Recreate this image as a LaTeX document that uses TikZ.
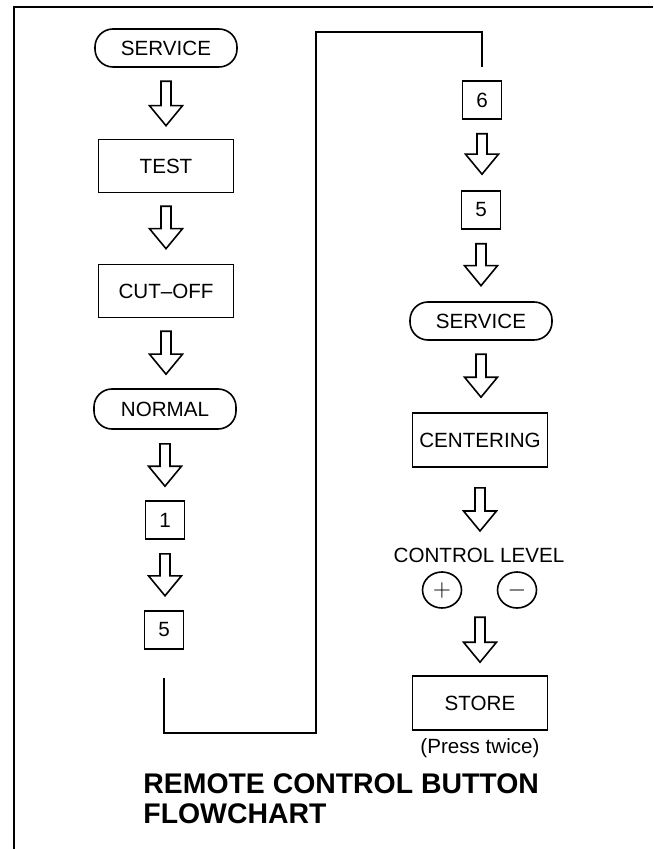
\documentclass[tikz,border=0pt]{standalone}
\usepackage{fontspec}
\setmainfont{Liberation Sans}
\usetikzlibrary{calc,positioning,shapes.geometric}

\newcommand{\flowarrow}[2]{%
  \draw[hollowarr] let \p1=(#1), \p2=(#2) in
    (\x1-2.5pt,\y1) -- (\x1-2.5pt,\y2+10pt) -- (\x1-8.25pt,\y2+10pt)
    -- (\x1,\y2) -- (\x1+8.25pt,\y2+10pt) -- (\x1+2.5pt,\y2+10pt)
    -- (\x1+2.5pt,\y1) -- cycle;}

\begin{document}
\begin{tikzpicture}[x=0.5pt,y=-0.5pt,
  lbl/.style={font=\fontsize{10.3}{12}\selectfont,inner sep=0pt},
  stadium/.style={lbl,draw,line width=0.8pt,rounded corners=9pt,
    minimum width=71pt,minimum height=19pt},
  stepbox/.style={lbl,draw,line width=0.8pt,minimum width=67.5pt,
    minimum height=26.5pt},
  keybox/.style={lbl,draw,line width=0.8pt,minimum width=19.5pt,
    minimum height=19pt},
  keyring/.style={lbl,draw,line width=0.8pt,ellipse,minimum width=19.5pt,
    minimum height=18pt,font=\fontsize{12}{12}\selectfont},
  hollowarr/.style={draw,line width=0.8pt,line join=miter,fill=white},
  link/.style={draw,line width=0.8pt},
  titletext/.style={font=\fontsize{14.2}{15}\selectfont\bfseries,
    align=left,inner sep=0pt}
]
  \useasboundingbox (0,0) rectangle (653,849);
  \draw[line width=0.6pt] (14,849) -- (14,7) -- (653,7);

  \node[stadium] (svcA) at (166,48) {SERVICE};
  \node[stepbox] (test) at (166,166) {TEST};
  \node[stepbox] (cut) at (166,291) {CUT--OFF};
  \node[stadium,minimum height=20pt] (norm) at (165,409) {NORMAL};
  \node[keybox] (one) at (165,520) {1};
  \node[keybox] (fiveA) at (164,630) {5};

  \flowarrow{$(svcA.south)+(0,13.5)$}{$(test.north)-(0,13)$}
  \flowarrow{$(test.south)+(0,13)$}{$(cut.north)-(0,15)$}
  \flowarrow{$(cut.south)+(0,13)$}{$(norm.north)-(0,14)$}
  \flowarrow{$(norm.south)+(0,14)$}{$(one.north)-(0,14)$}
  \flowarrow{$(one.south)+(0,14)$}{$(fiveA.south)-(0,54)$}

  \node[keybox] (sixB) at (482,100) {6};
  \node[keybox] (fiveB) at (481,210) {5};
  \node[stadium] (svcB) at (481,321) {SERVICE};
  \node[stepbox,minimum height=27pt] (cent) at (480,440) {CENTERING};
  \node[lbl] (lvl) at (479,555) {CONTROL LEVEL};
  \node[keyring] (plus) at (442,590) {$+$};
  \node[keyring] (minus) at (517,590) {$-$};
  \node[stepbox,minimum height=27pt] (store) at (480,703) {STORE};
  \node[lbl] (note) at (480,748) {(Press twice)};

  \draw[link] ($(fiveA.south)+(0,28)$) -- ++(0,55) -| (316,32)
    -| ($(sixB.north)-(0,13)$);

  \flowarrow{$(sixB.south)+(0,14)$}{$(fiveB.north)-(0,16)$}
  \flowarrow{$(fiveB.south)+(0,14)$}{$(svcB.north)-(0,15.5)$}
  \flowarrow{$(svcB.south)+(0,13.5)$}{$(cent.north)-(0,15)$}
  \flowarrow{$(cent.south)+(0,20)$}{$(lvl.center)-(0,24)$}
  \flowarrow{$(store.north)-(0,58)$}{$(store.north)-(0,13)$}

  \node[titletext,anchor=base west] (title) at (143,823)
    {REMOTE CONTROL BUTTON\\FLOWCHART};
\end{tikzpicture}
\end{document}
